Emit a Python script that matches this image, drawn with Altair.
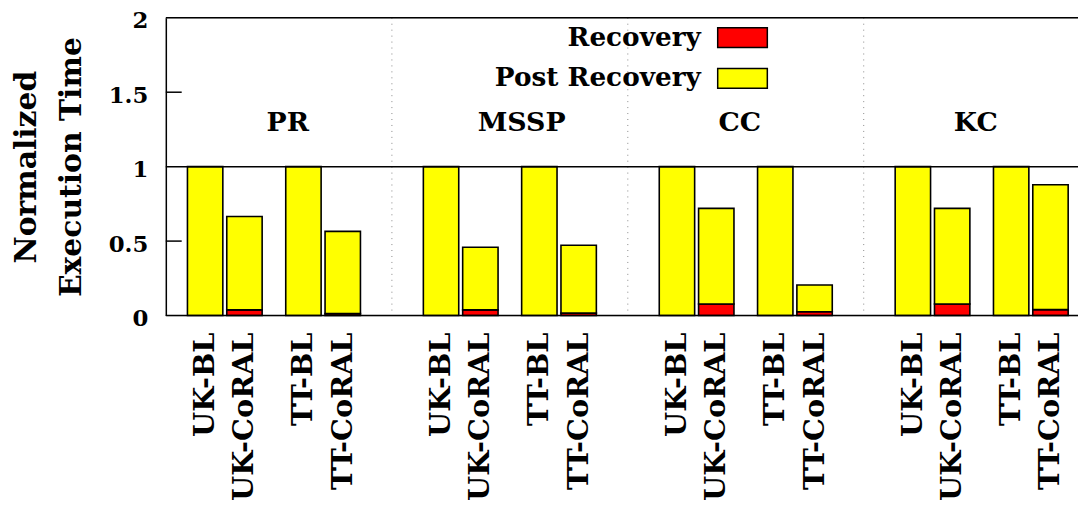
import altair as alt
import pandas as pd

benchmarks = ["PR", "MSSP", "CC", "KC"]
configs = ["UK-BL", "UK-CoRAL", "TT-BL", "TT-CoRAL"]
bar_offsets = [0, 1, 2.5, 3.5]
group_step = 6

pr_total = [1.0, 0.665, 1.0, 0.565]
pr_recovery = [0.0, 0.038, 0.0, 0.013]
mssp_total = [1.0, 0.459, 1.0, 0.472]
mssp_recovery = [0.0, 0.038, 0.0, 0.016]
cc_total = [1.0, 0.72, 1.0, 0.205]
cc_recovery = [0.0, 0.078, 0.0, 0.025]
kc_total = [1.0, 0.72, 1.0, 0.878]
kc_recovery = [0.0, 0.078, 0.0, 0.04]

group_label_x = [2.1, 8.05, 13.6, 19.6]
group_label_y = 1.29
separators = [4.75, 10.75, 16.75]
y_ticks = [0, 0.5, 1, 1.5, 2]
inner_ticks = [0.5, 1.5]
bar_width = 0.9

totals = [pr_total, mssp_total, cc_total, kc_total]
recs = [pr_recovery, mssp_recovery, cc_recovery, kc_recovery]

rows = []
labels = []
for g, b in enumerate(benchmarks):
    for i, c in enumerate(configs):
        pos = g * group_step + bar_offsets[i]
        r = recs[g][i]
        t = totals[g][i]
        labels.append({"pos": pos, "name": c})
        if r > 0:
            rows.append({"x0": pos - bar_width / 2, "x1": pos + bar_width / 2,
                         "y0": 0, "y1": r, "segment": "Recovery"})
        rows.append({"x0": pos - bar_width / 2, "x1": pos + bar_width / 2,
                     "y0": r, "y1": t, "segment": "Post Recovery"})

df = pd.DataFrame(rows)
df_labels = pd.DataFrame(labels)
df_groups = pd.DataFrame({"x": group_label_x, "y": [group_label_y] * 4, "name": benchmarks})
df_sep = pd.DataFrame({"x": separators})
df_hlines = pd.DataFrame({"y": [0, 1, 2]})
df_ticks = pd.DataFrame({"y": inner_ticks})

FONT = "DejaVu Serif"

xs = alt.Scale(domain=[-1, 22.2], nice=False, zero=False)
ys = alt.Scale(domain=[0, 2], nice=False, zero=False)

y_axis = alt.Axis(
    values=y_ticks,
    format="~g",
    tickSize=0,
    grid=False,
    domainColor="black",
    domainWidth=1.5,
    labelFont=FONT,
    labelFontSize=23,
    labelFontWeight="bold",
    labelColor="black",
    labelPadding=18,
    labelOffset=3,
    title=["Normalized", "Execution Time"],
    titleFont=FONT,
    titleFontSize=30,
    titleFontWeight="bold",
    titleColor="black",
    titleLineHeight=45,
    titlePadding=22,
)

sep = alt.Chart(df_sep).mark_rule(color="#888888", strokeWidth=1, strokeDash=[1, 5]).encode(
    x=alt.X("x:Q", scale=xs, axis=None)
)

hlines = alt.Chart(df_hlines).mark_rule(color="black", strokeWidth=1.5).encode(
    y=alt.Y("y:Q", scale=ys, axis=y_axis)
)

ticks = alt.Chart(df_ticks).mark_rule(color="black", strokeWidth=1.5).encode(
    y=alt.Y("y:Q", scale=ys, axis=y_axis),
    x=alt.value(0),
    x2=alt.value(16),
)

bars = alt.Chart(df).mark_rect(stroke="black", strokeWidth=1.6).encode(
    x=alt.X("x0:Q", scale=xs, axis=None),
    x2="x1:Q",
    y=alt.Y("y0:Q", scale=ys, axis=y_axis),
    y2="y1:Q",
    fill=alt.Fill(
        "segment:N",
        scale=alt.Scale(domain=["Recovery", "Post Recovery"], range=["#ff0000", "#ffff00"]),
        legend=alt.Legend(
            title=None,
            orient="none",
            legendX=487,
            legendY=-6,
            padding=0,
            symbolType="M1.72,-0.4L3.72,-0.4L3.72,0.4L1.72,0.4Z",
            symbolSize=2500,
            symbolStrokeColor="black",
            symbolStrokeWidth=1.5,
            symbolOpacity=1,
            labelAlign="right",
            labelOffset=0,
            labelFont=FONT,
            labelFontSize=26.5,
            labelFontWeight="bold",
            labelColor="black",
            labelLimit=400,
            rowPadding=1,
        ),
    ),
)

xlabels = alt.Chart(df_labels).mark_text(
    angle=270, align="right", baseline="middle", font=FONT, fontSize=29,
    fontWeight="bold", color="black"
).encode(
    x=alt.X("pos:Q", scale=xs, axis=None),
    y=alt.value(317),
    text="name:N",
)

glabels = alt.Chart(df_groups).mark_text(
    align="center", baseline="middle", font=FONT, fontSize=27,
    fontWeight="bold", color="black"
).encode(
    x=alt.X("x:Q", scale=xs, axis=None),
    y=alt.Y("y:Q", scale=ys, axis=y_axis),
    text="name:N",
)

chart = alt.layer(sep, bars, hlines, ticks, xlabels, glabels).properties(
    width=919,
    height=300,
    padding={"left": 159, "top": 8, "right": 0, "bottom": 184},
    autosize=alt.AutoSizeParams(type="none"),
).configure_view(stroke=None).configure(background="white")

chart.save("out.html", embed_options={"renderer": "svg", "actions": False})
